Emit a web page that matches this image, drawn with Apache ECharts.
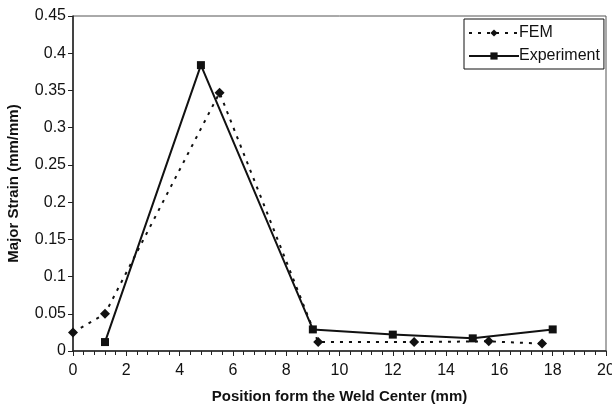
<!DOCTYPE html>
<html><head><meta charset="utf-8">
<script src="https://cdn.jsdelivr.net/npm/echarts@6/dist/echarts.min.js"></script>
<style>html,body{margin:0;padding:0;background:#fff}#c{width:612px;height:410px}</style>
</head><body><div id="c"></div>
<script>
var femX = [0, 1.2, 5.5, 9.2, 12.8, 15.6, 17.6];
var femY = [0.025, 0.05, 0.347, 0.012, 0.012, 0.013, 0.010];
var expX = [1.2, 4.8, 9.0, 12.0, 15.0, 18.0];
var expY = [0.012, 0.384, 0.029, 0.022, 0.017, 0.029];
var seriesNames = ['FEM', 'Experiment'];
var xTitle = 'Position form the Weld Center (mm)';
var yTitle = 'Major Strain (mm/mm)';

function pairs(xs, ys){ return xs.map(function(x,i){ return [x, ys[i]]; }); }

var chart = echarts.init(document.getElementById('c'));
var font = 'Liberation Sans, Arial, sans-serif';
chart.setOption({
  animation: false,
  backgroundColor: '#fff',
  textStyle: {fontFamily: font},
  grid: {left: 73, right: 6, top: 16, bottom: 59, show: true, borderColor: '#555', borderWidth: 1,
         outerBoundsMode: 'none', containLabel: false},
  xAxis: {
    type: 'value', min: 0, max: 20, interval: 2,
    name: xTitle, nameLocation: 'middle', nameGap: 38,
    nameTextStyle: {fontFamily: font, fontWeight: 'bold', fontSize: 15, color: '#111'},
    axisLine: {show: true, onZero: false, lineStyle: {color: '#222', width: 1.5}},
    axisTick: {show: true, inside: false, length: 5, lineStyle: {color: '#222'}},
    minorTick: {show: true, splitNumber: 5, length: 4, lineStyle: {color: '#222'}},
    axisLabel: {fontFamily: font, fontSize: 16, color: '#111', margin: 12},
    splitLine: {show: false}
  },
  yAxis: {
    type: 'value', min: 0, max: 0.45, interval: 0.05,
    name: yTitle, nameLocation: 'middle', nameGap: 52,
    nameTextStyle: {fontFamily: font, fontWeight: 'bold', fontSize: 15, color: '#111'},
    axisLine: {show: true, onZero: false, lineStyle: {color: '#222', width: 1.5}},
    axisTick: {show: true, inside: false, length: 5, lineStyle: {color: '#222'}},
    axisLabel: {fontFamily: font, fontSize: 16, color: '#111', margin: 7,
      formatter: function(v){ return String(parseFloat(v.toFixed(2))); }},
    splitLine: {show: false}
  },
  legend: {
    left: 464, top: 19, orient: 'vertical',
    itemWidth: 50, itemHeight: 9, itemGap: 7,
    padding: [6, 4, 5, 4],
    borderColor: '#111', borderWidth: 1, backgroundColor: '#fff',
    textStyle: {fontFamily: font, fontSize: 16, color: '#111', padding: [0,0,0,-5]},
    data: seriesNames
  },
  series: [
    {name: seriesNames[0], type: 'line', data: pairs(femX, femY),
     symbol: 'diamond', symbolSize: 10,
     lineStyle: {color: '#111', width: 2, type: [3, 6]},
     itemStyle: {color: '#111'}},
    {name: seriesNames[1], type: 'line', data: pairs(expX, expY),
     symbol: 'rect', symbolSize: 8,
     lineStyle: {color: '#111', width: 2},
     itemStyle: {color: '#111'}}
  ]
});
</script></body></html>
